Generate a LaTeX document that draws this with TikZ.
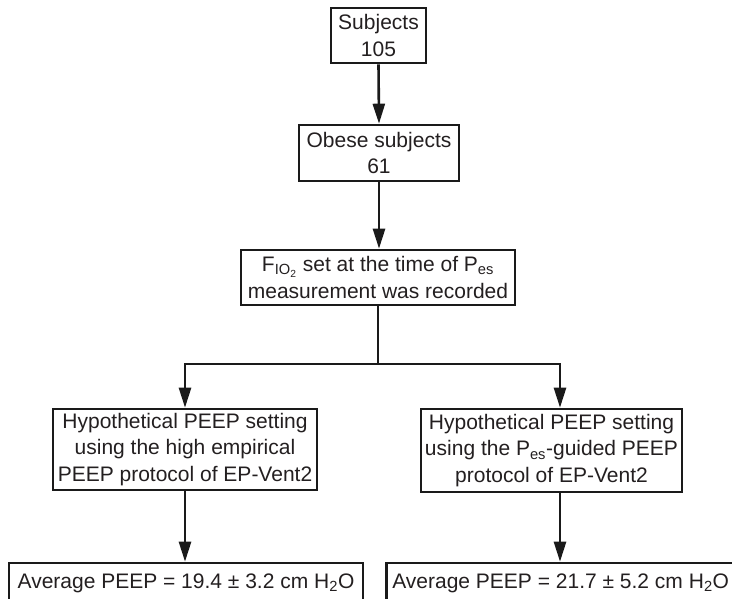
\documentclass[tikz,border=0pt]{standalone}
\usepackage{fontspec}
\setmainfont{Liberation Sans}
\usetikzlibrary{arrows.meta}
\definecolor{txt}{HTML}{231F20}
\definecolor{lnc}{HTML}{1A1A1A}
\newcommand{\sbs}[1]{\textsubscript{#1}}
\begin{document}
\begin{tikzpicture}[x=1pt,y=-1pt,
  box/.style={draw=lnc, line width=2.6pt, align=center, inner sep=0pt,
    font=\fontsize{21}{26.5}\selectfont, text=txt},
  arr/.style={draw=lnc, line width=2.6pt, line join=miter, -{Triangle[length=20pt,width=12pt]}},
  ln/.style={draw=lnc, line width=2.6pt}]
\useasboundingbox (0,0) rectangle (732,598);
\clip (0,0) rectangle (732,598);
\node[box, minimum width=95pt, minimum height=55pt] (s) at (378.5,35.5) {Subjects\\105};
\node[box, minimum width=160pt, minimum height=56pt] (o) at (379,153) {Obese subjects\\61};
\node[box, minimum width=274pt, minimum height=55pt] (f) at (378,277.5)
  {F\sbs{IO\sbs{2}} set at the time of P\sbs{es}\\measurement was recorded};
\node[box, minimum width=264pt, minimum height=81pt] (lh) at (185,449.5)
  {Hypothetical PEEP setting\\using the high empirical\\PEEP protocol of EP-Vent2};
\node[box, minimum width=261pt, minimum height=83pt] (rh) at (551.5,450.5)
  {Hypothetical PEEP setting\\using the P\sbs{es}-guided PEEP\\protocol of EP-Vent2};
\node[box, minimum width=354pt, minimum height=41pt] (lb) at (186,583.5)
  {Average PEEP = 19.4 ± 3.2 cm H\sbs{2}O};
\node[box, anchor=west, inner xsep=6pt, minimum height=41pt] (rb) at (385,583.5)
  {Average PEEP = 21.7 ± 5.2 cm H\sbs{2}O};
\coordinate (bj) at (378,364);
\coordinate (bl) at (185,364);
\coordinate (br) at (560,364);
\draw[arr] (s.south) -- (o.north);
\draw[arr] (o.south) -- (o.south |- f.north);
\draw[ln] (f.south) -- (bj);
\draw[arr] (bj) -- (bl) -- (bl |- lh.north);
\draw[arr] (bj) -- (br) -- (br |- rh.north);
\draw[arr] (bl |- lh.south) -- (bl |- lb.north);
\draw[arr] (br |- rh.south) -- (br |- rb.north);
\end{tikzpicture}
\end{document}
